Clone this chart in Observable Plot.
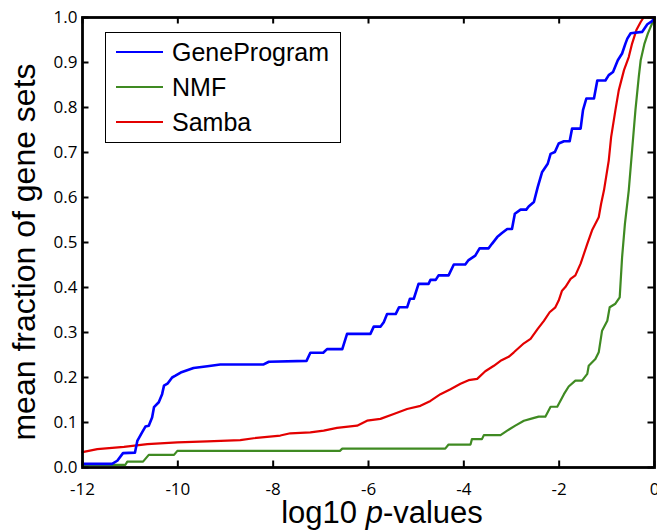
<!DOCTYPE html>
<html><head><meta charset="utf-8">
<script src="https://cdn.jsdelivr.net/npm/d3@7"></script>
<script src="https://cdn.jsdelivr.net/npm/@observablehq/plot@0.6"></script>
<style>
body{margin:0;background:#fff;}
#wrap{position:relative;width:657px;height:531px;overflow:hidden;}
.legend{position:absolute;left:105px;top:32px;width:234px;height:109px;border:1.6px solid #000;background:#fff;font-family:"Liberation Sans",Arial,sans-serif;font-size:25px;color:#000;}
.row{position:absolute;left:10px;height:30px;display:flex;align-items:center;white-space:nowrap;}
.sw{display:inline-block;width:47px;height:2.6px;margin-right:9px;}
.title{position:absolute;font-family:"Liberation Sans",Arial,sans-serif;color:#000;line-height:0.75;white-space:nowrap;}
.xtitle{left:382px;top:512.8px;font-size:31px;transform:translate(-50%,-50%);}
.ytitle{left:24px;top:251.5px;font-size:32px;transform:translate(-50%,-50%) rotate(-90deg);}
</style></head><body><div id="wrap"></div>
<script>
const xTicks = [-12, -10, -8, -6, -4, -2, 0];
const yTicks = [0, 0.1, 0.2, 0.3, 0.4, 0.5, 0.6, 0.7, 0.8, 0.9, 1.0];
const xTitleParts = ["log10 ", "p", "-values"];
const yTitle = "mean fraction of gene sets";
const seriesNames = ["GeneProgram", "NMF", "Samba"];
const seriesColors = ["#0000ff", "#3f8a22", "#e30000"];

const geneProgram = [[-12,0.008],[-11.38,0.008],[-11.27,0.015],[-11.15,0.032],[-10.90,0.033],[-10.85,0.059],[-10.75,0.078],[-10.68,0.091],[-10.61,0.093],[-10.54,0.111],[-10.50,0.134],[-10.40,0.145],[-10.33,0.163],[-10.29,0.182],[-10.21,0.187],[-10.12,0.200],[-10.05,0.204],[-9.94,0.211],[-9.67,0.221],[-9.38,0.225],[-9.11,0.229],[-8.20,0.229],[-8.09,0.235],[-7.30,0.237],[-7.22,0.255],[-6.95,0.255],[-6.87,0.263],[-6.55,0.263],[-6.45,0.297],[-5.96,0.297],[-5.89,0.313],[-5.75,0.313],[-5.68,0.323],[-5.61,0.341],[-5.43,0.341],[-5.36,0.356],[-5.19,0.356],[-5.13,0.375],[-5.05,0.375],[-4.95,0.408],[-4.74,0.408],[-4.70,0.417],[-4.59,0.417],[-4.53,0.427],[-4.32,0.427],[-4.21,0.451],[-3.97,0.451],[-3.90,0.461],[-3.76,0.471],[-3.67,0.487],[-3.48,0.487],[-3.41,0.497],[-3.30,0.512],[-3.20,0.521],[-3.09,0.530],[-2.99,0.530],[-2.93,0.564],[-2.81,0.573],[-2.69,0.573],[-2.64,0.580],[-2.53,0.590],[-2.45,0.623],[-2.36,0.656],[-2.24,0.675],[-2.18,0.697],[-2.09,0.701],[-2.01,0.720],[-1.90,0.725],[-1.78,0.725],[-1.73,0.753],[-1.55,0.753],[-1.50,0.794],[-1.43,0.820],[-1.27,0.820],[-1.20,0.860],[-1.03,0.860],[-0.96,0.872],[-0.87,0.879],[-0.77,0.905],[-0.68,0.920],[-0.61,0.942],[-0.57,0.953],[-0.50,0.965],[-0.26,0.968],[-0.15,0.985],[-0.05,0.992],[0,1.0]];
const nmf = [[-12,0.006],[-11.10,0.006],[-11.06,0.013],[-10.73,0.013],[-10.61,0.028],[-10.08,0.028],[-10.01,0.037],[-6.60,0.037],[-6.55,0.042],[-4.39,0.042],[-4.32,0.051],[-3.86,0.051],[-3.83,0.063],[-3.62,0.063],[-3.58,0.072],[-3.23,0.072],[-3.09,0.082],[-2.92,0.093],[-2.74,0.104],[-2.60,0.108],[-2.43,0.113],[-2.29,0.113],[-2.18,0.135],[-2.04,0.135],[-1.90,0.163],[-1.80,0.180],[-1.66,0.193],[-1.52,0.193],[-1.41,0.208],[-1.38,0.226],[-1.24,0.241],[-1.17,0.256],[-1.10,0.304],[-0.99,0.326],[-0.94,0.356],[-0.82,0.364],[-0.73,0.378],[-0.68,0.467],[-0.62,0.542],[-0.54,0.616],[-0.47,0.705],[-0.40,0.794],[-0.33,0.868],[-0.29,0.905],[-0.21,0.942],[-0.14,0.964],[-0.05,0.987],[0,1.0]];
const samba = [[-12,0.034],[-11.69,0.041],[-11.13,0.046],[-10.64,0.052],[-10.01,0.056],[-9.38,0.058],[-8.69,0.061],[-8.41,0.065],[-7.85,0.071],[-7.64,0.076],[-7.22,0.078],[-6.94,0.082],[-6.66,0.088],[-6.24,0.093],[-6.03,0.104],[-5.75,0.108],[-5.47,0.119],[-5.19,0.130],[-4.91,0.137],[-4.70,0.148],[-4.49,0.163],[-4.28,0.174],[-4.07,0.186],[-3.90,0.194],[-3.72,0.197],[-3.55,0.214],[-3.37,0.226],[-3.23,0.237],[-3.06,0.246],[-2.95,0.256],[-2.74,0.276],[-2.60,0.286],[-2.45,0.308],[-2.32,0.326],[-2.20,0.345],[-2.08,0.356],[-2.01,0.371],[-1.94,0.393],[-1.87,0.401],[-1.76,0.419],[-1.66,0.427],[-1.55,0.453],[-1.41,0.497],[-1.31,0.527],[-1.17,0.556],[-1.12,0.586],[-1.06,0.616],[-0.96,0.682],[-0.91,0.734],[-0.82,0.794],[-0.75,0.838],[-0.64,0.883],[-0.54,0.912],[-0.47,0.942],[-0.38,0.972],[-0.29,0.990],[-0.23,1.0],[0,1.0]];

const seriesData = [geneProgram, nmf, samba];
const W = 657, H = 531, mL = 82, mR = 3, mT = 17, mB = 64;
const innerW = W - mL - mR, innerH = H - mT - mB;
const tickLen = 6.5;
const fmtY = d3.format(".1f");
const fmtX = d => String(d);

const lineMarks = [1, 2, 0].map(i => Plot.line(seriesData[i], {
  x: d => d[0], y: d => d[1], stroke: seriesColors[i],
  strokeWidth: i === 0 ? 2.6 : 2.2, strokeLinejoin: "round"
}));

const plot = Plot.plot({
  width: W, height: H,
  marginLeft: mL, marginRight: mR, marginTop: mT, marginBottom: mB,
  style: {fontFamily: "'Open Sans', sans-serif", fontSize: "17px", color: "#000", background: "#fff", overflow: "visible"},
  x: {domain: [-12, 0]},
  y: {domain: [0, 1]},
  marks: [
    Plot.axisX(xTicks, {anchor: "bottom", tickSize: 0, tickPadding: 15, label: null, tickFormat: fmtX, fontSize: 17}),
    Plot.axisY(yTicks, {anchor: "left", tickSize: 0, tickPadding: 5, label: null, tickFormat: fmtY, fontSize: 17}),
    Plot.tickX(xTicks, {x: d => d, insetTop: innerH - tickLen, stroke: "#000", strokeWidth: 2}),
    Plot.tickX(xTicks, {x: d => d, insetBottom: innerH - tickLen, stroke: "#000", strokeWidth: 2}),
    Plot.tickY(yTicks, {y: d => d, insetRight: innerW - tickLen, stroke: "#000", strokeWidth: 2}),
    Plot.tickY(yTicks, {y: d => d, insetLeft: innerW - tickLen, stroke: "#000", strokeWidth: 2}),
    ...lineMarks,
    Plot.frame({stroke: "#000", strokeWidth: 2.8})
  ]
});

const wrap = document.getElementById("wrap");
wrap.appendChild(plot);

const xt = document.createElement("div");
xt.className = "title xtitle";
xTitleParts.forEach((p, i) => {
  const s = document.createElement("span");
  s.textContent = p;
  if (i === 1) s.style.fontStyle = "italic";
  xt.appendChild(s);
});
wrap.appendChild(xt);

const yt = document.createElement("div");
yt.className = "title ytitle";
yt.textContent = yTitle;
wrap.appendChild(yt);

const legend = document.createElement("div");
legend.className = "legend";
seriesNames.forEach((name, i) => {
  const row = document.createElement("div");
  row.className = "row";
  row.style.top = (4 + i * 35) + "px";
  const sw = document.createElement("span");
  sw.className = "sw";
  sw.style.background = seriesColors[i];
  row.appendChild(sw);
  const tx = document.createElement("span");
  tx.textContent = name;
  row.appendChild(tx);
  legend.appendChild(row);
});
wrap.appendChild(legend);
</script>
</body></html>
